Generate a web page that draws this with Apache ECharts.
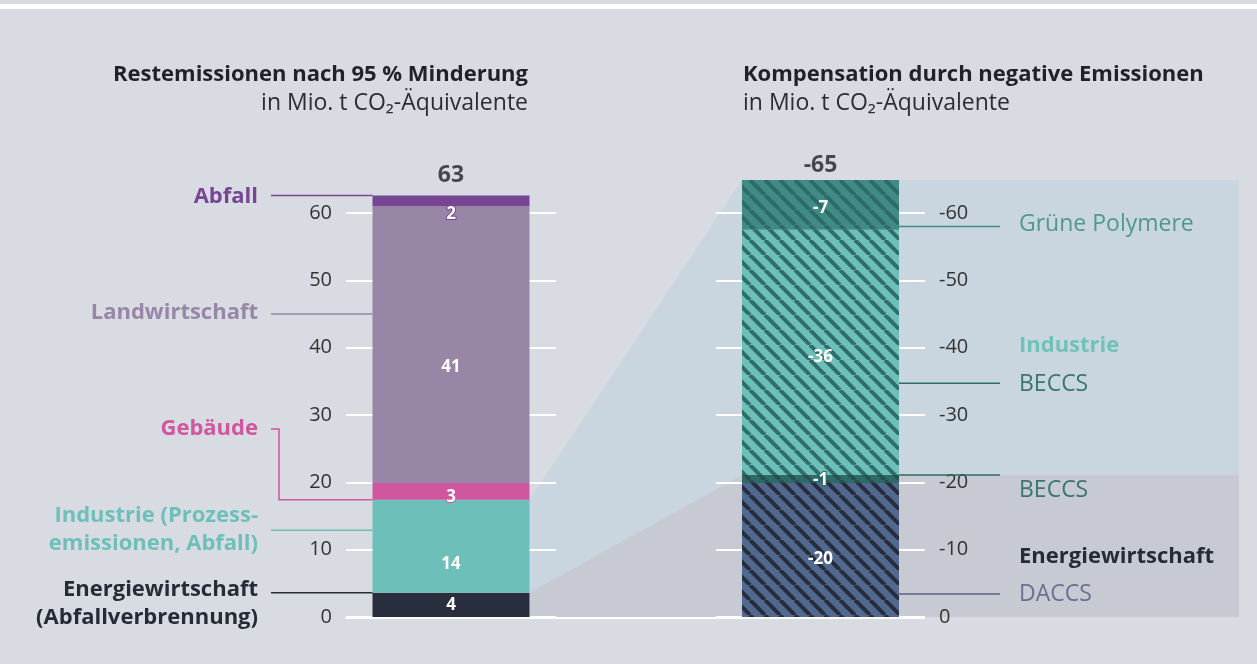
<!DOCTYPE html>
<html>
<head>
<meta charset="utf-8">
<script src="https://cdn.jsdelivr.net/npm/echarts@6/dist/echarts.min.js"></script>
<style>
  html, body { margin: 0; padding: 0; background: #d8dbe2; }
  #chart { width: 1257px; height: 664px; }
</style>
</head>
<body>
<div id="chart"></div>
<script>
// Restemissionen (left bar), bottom to top
const REST_NAMES = ["Energiewirtschaft (Abfallverbrennung)", "Industrie (Prozessemissionen, Abfall)", "Gebäude", "Landwirtschaft", "Abfall"];
const REST_VALUES = [3.6, 13.8, 2.5, 41.1, 1.6];

// Kompensation (right bar), bottom to top
const COMP_NAMES = ["DACCS", "BECCS (Energiewirtschaft)", "BECCS (Industrie)", "Grüne Polymere"];
const COMP_VALUES = [-19.9, -1.2, -36.4, -7.4];

const REST_TICKS = { min: 0, max: 60, interval: 10 };
const COMP_TICKS = { min: -60, max: 0, interval: 10 };

// where the leader lines meet the bars, in axis units
const REST_LEADER_AT = [3.6, 12.9, 17.4, 45.0, 62.6];
const COMP_LEADER_AT = [-3.4, -21.1, -34.7, -58.0];

const FONT = "'Open Sans', sans-serif";
const BAR_W = 157;

const REST_COLORS = ["#282e3d", "#6dbfb9", "#d056a0", "#9886a7", "#774594"];
const REST_NUDGE = [0, 18, 6, 23, 13];
const COMP_FILLS = [
  ["#52698f", "#262d3d"],
  ["#2f6a67", "#26514f"],
  ["#6cc0b8", "#2f6d6a"],
  ["#418b86", "#2d6b67"]
];
const COMP_NUDGE = [9, 1, 5, 3];

function hatchTile(bg, stripe) {
  const s = 15;
  const c = document.createElement("canvas");
  c.width = s;
  c.height = s;
  const ctx = c.getContext("2d");
  ctx.fillStyle = bg;
  ctx.fillRect(0, 0, s, s);
  ctx.strokeStyle = stripe;
  ctx.lineWidth = 4;
  [-1, 0, 1].forEach((k) => {
    ctx.beginPath();
    ctx.moveTo(k * s, 0);
    ctx.lineTo(k * s + s, s);
    ctx.stroke();
  });
  return c;
}

function segLabel(nudge, border) {
  return {
    show: true,
    position: "inside",
    offset: [0, nudge],
    color: "#fff",
    fontFamily: FONT,
    fontWeight: "bold",
    fontSize: 17,
    textBorderColor: border,
    textBorderWidth: border ? 2 : 0,
    formatter: (p) => String(Math.round(p.value))
  };
}

const restSeries = REST_VALUES.map((v, i) => ({
  name: REST_NAMES[i],
  type: "bar",
  stack: "rest",
  xAxisIndex: 0,
  yAxisIndex: 0,
  barWidth: BAR_W,
  clip: false,
  data: [v],
  itemStyle: { color: REST_COLORS[i] },
  label: segLabel(REST_NUDGE[i], i >= 2 ? REST_COLORS[i] : null),
  emphasis: { disabled: true },
  z: 3
}));

const compSeries = COMP_VALUES.map((v, i) => ({
  name: COMP_NAMES[i],
  type: "bar",
  stack: "comp",
  xAxisIndex: 1,
  yAxisIndex: 1,
  barWidth: BAR_W,
  clip: false,
  data: [v],
  itemStyle: { color: { image: hatchTile(COMP_FILLS[i][0], COMP_FILLS[i][1]), repeat: "repeat" } },
  label: segLabel(COMP_NUDGE[i], i === 1 ? COMP_FILLS[i][0] : null),
  emphasis: { disabled: true },
  z: 3
}));

const sum = (arr) => arr.reduce((a, b) => a + b, 0);

function totalSeries(axis, total, distance) {
  return {
    type: "scatter",
    xAxisIndex: axis,
    yAxisIndex: axis,
    symbolSize: 1,
    itemStyle: { color: "rgba(0,0,0,0)" },
    clip: false,
    silent: true,
    data: [[0, total]],
    label: {
      show: true,
      position: "top",
      distance: distance,
      color: "#1f2228",
      fontFamily: FONT,
      fontWeight: "bold",
      fontSize: 23,
      formatter: () => String(Math.round(total))
    },
    z: 4
  };
}

function valueAxis(grid, ticks, position, inverse) {
  return {
    type: "value",
    gridIndex: grid,
    position: position,
    inverse: inverse,
    min: ticks.min,
    max: ticks.max,
    interval: ticks.interval,
    axisLine: { show: false },
    axisTick: { show: false },
    axisLabel: { color: "#333", fontFamily: FONT, fontSize: 20, margin: 14 },
    splitLine: { lineStyle: { color: "#ffffff", width: 2 } }
  };
}

const chart = echarts.init(document.getElementById("chart"));

chart.setOption({
  animation: false,
  backgroundColor: "#d8dbe2",
  grid: [
    { left: 346, width: 210, top: 213, bottom: 47 },
    { left: 716, width: 209, top: 213, bottom: 47 }
  ],
  xAxis: [
    { type: "category", gridIndex: 0, data: ["Rest"], show: false },
    { type: "category", gridIndex: 1, data: ["Komp"], show: false }
  ],
  yAxis: [
    valueAxis(0, REST_TICKS, "left", false),
    valueAxis(1, COMP_TICKS, "right", true)
  ],
  series: [
    ...restSeries,
    ...compSeries,
    totalSeries(0, sum(REST_VALUES), 8),
    totalSeries(1, sum(COMP_VALUES), 3)
  ]
});

// overlay: connectors, leader lines, titles and category names
function buildGraphic() {
  const at = (axis, v) => chart.convertToPixel({ xAxisIndex: axis, yAxisIndex: axis }, [0, v]);
  const half = BAR_W / 2;
  const lx = at(0, 0)[0];
  const rx = at(1, 0)[0];
  const lRight = lx + half;
  const lLeft = lx - half;
  const rLeft = rx - half;
  const rRight = rx + half;
  const y0 = at(0, 0)[1];

  const restTop = (i) => at(0, sum(REST_VALUES.slice(0, i + 1)))[1];
  const compTop = (i) => at(1, sum(COMP_VALUES.slice(0, i + 1)))[1];
  const farRight = 1239;

  const items = [];

  items.push({ type: "rect", z: -2, shape: { x: 0, y: 4, width: 1257, height: 5 }, style: { fill: "#ffffff" } });

  // Industrie -> Industrie + Grüne Polymere
  items.push({
    type: "polygon",
    z: -1,
    shape: { points: [
      [lRight, restTop(1)], [rLeft, compTop(3)], [farRight, compTop(3)],
      [farRight, compTop(1)], [rLeft, compTop(1)], [lRight, restTop(0)]
    ] },
    style: { fill: "#c9d6df" }
  });
  // Energiewirtschaft -> DACCS + BECCS
  items.push({
    type: "polygon",
    z: -1,
    shape: { points: [
      [lRight, restTop(0)], [rLeft, compTop(1)], [farRight, compTop(1)],
      [farRight, y0], [lRight, y0]
    ] },
    style: { fill: "#c7c9d3" }
  });

  items.push({
    type: "line",
    z: 1,
    shape: { x1: lLeft - 27, y1: y0 + 1, x2: rRight + 26, y2: y0 + 1 },
    style: { stroke: "#ffffff", lineWidth: 2 }
  });

  // left leaders
  const leaderX = 271;
  REST_LEADER_AT.forEach((v, i) => {
    const y = at(0, v)[1];
    if (i === 2) {
      const yText = 429;
      items.push({
        type: "polyline",
        z: 5,
        shape: { points: [[leaderX, yText], [279, yText], [279, y], [lLeft, y]] },
        style: { stroke: REST_COLORS[i], lineWidth: 1.5, fill: null }
      });
    } else {
      items.push({
        type: "line",
        z: 5,
        shape: { x1: leaderX, y1: y, x2: lLeft, y2: y },
        style: { stroke: REST_COLORS[i], lineWidth: 1.5 }
      });
    }
  });

  const leftText = [
    { text: "Energiewirtschaft\n(Abfallverbrennung)", y: 604, color: "#262b38" },
    { text: "Industrie (Prozess-\nemissionen, Abfall)", y: 530, color: "#6dbfb9" },
    { text: "Gebäude", y: 429, color: "#d056a0" },
    { text: "Landwirtschaft", y: 313, color: "#9886a7" },
    { text: "Abfall", y: 197, color: "#774594" }
  ];
  leftText.forEach((t) => {
    items.push({
      type: "text",
      z: 5,
      style: {
        text: t.text, x: 258, y: t.y, align: "right", verticalAlign: "middle",
        fill: t.color, font: "bold 22px " + FONT, lineHeight: 28
      }
    });
  });

  // right leaders
  const compLeaderColors = ["#5b6085", "#2e6a66", "#2f6b68", "#3f8a86"];
  COMP_LEADER_AT.forEach((v, i) => {
    const y = at(1, v)[1];
    items.push({
      type: "line",
      z: 5,
      shape: { x1: rRight, y1: y, x2: 1000, y2: y },
      style: { stroke: compLeaderColors[i], lineWidth: 1.5 }
    });
  });

  const rightText = [
    { text: "Grüne Polymere", y: 224, color: "#4f9891", bold: false },
    { text: "Industrie", y: 346, color: "#6fc2ba", bold: true },
    { text: "BECCS", y: 384, color: "#3b7571", bold: false },
    { text: "BECCS", y: 490, color: "#3b7571", bold: false },
    { text: "Energiewirtschaft", y: 557, color: "#262b38", bold: true },
    { text: "DACCS", y: 594, color: "#6c7090", bold: false }
  ];
  rightText.forEach((t) => {
    items.push({
      type: "text",
      z: 5,
      style: {
        text: t.text, x: 1019, y: t.y, align: "left", verticalAlign: "middle",
        fill: t.color, font: (t.bold ? "bold 22px " : "23px ") + FONT
      }
    });
  });

  // titles
  items.push({
    type: "text", z: 5,
    style: { text: "Restemissionen nach 95 % Minderung", x: 528, y: 75, align: "right", verticalAlign: "middle", fill: "#1f2228", font: "bold 22px " + FONT }
  });
  items.push({
    type: "text", z: 5,
    style: { text: "in Mio. t CO\u2082-Äquivalente", x: 528, y: 103, align: "right", verticalAlign: "middle", fill: "#2a2d33", font: "23px " + FONT }
  });
  items.push({
    type: "text", z: 5,
    style: { text: "Kompensation durch negative Emissionen", x: 743, y: 75, align: "left", verticalAlign: "middle", fill: "#1f2228", font: "bold 22px " + FONT }
  });
  items.push({
    type: "text", z: 5,
    style: { text: "in Mio. t CO\u2082-Äquivalente", x: 743, y: 103, align: "left", verticalAlign: "middle", fill: "#2a2d33", font: "23px " + FONT }
  });

  chart.setOption({ graphic: { elements: items } });
}

buildGraphic();
</script>
</body>
</html>
